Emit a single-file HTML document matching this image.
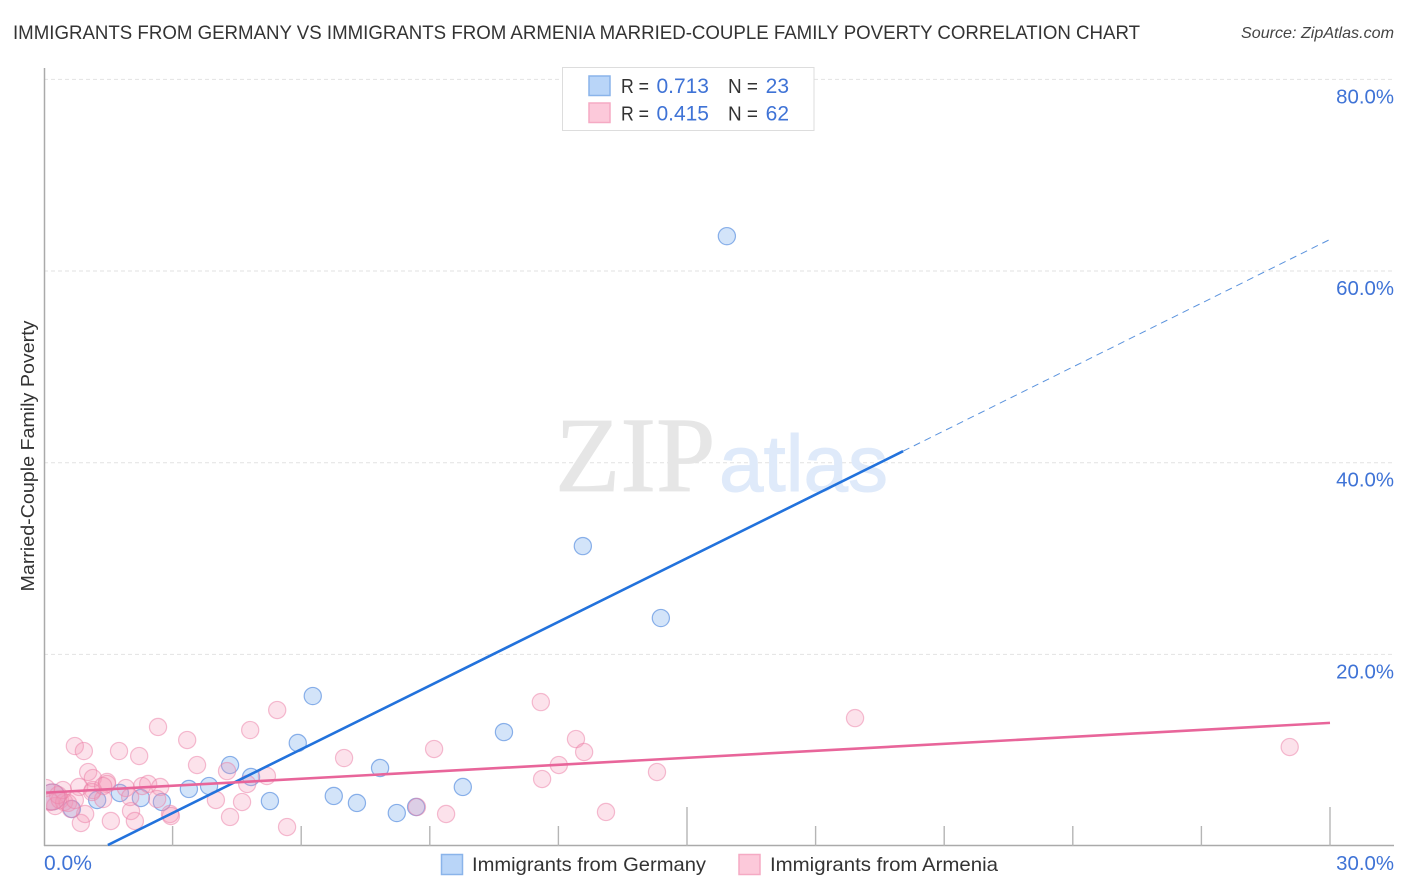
<!DOCTYPE html>
<html>
<head>
<meta charset="utf-8">
<title>Immigrants from Germany vs Immigrants from Armenia Married-Couple Family Poverty Correlation Chart</title>
<style>
html,body{margin:0;padding:0;background:#fff;width:1406px;height:892px;overflow:hidden}
svg{display:block}
text{font-family:"Liberation Sans",sans-serif}
</style>
</head>
<body>
<svg id="chart" xmlns="http://www.w3.org/2000/svg" width="1406" height="892" viewBox="0 0 1406 892">
  <defs>
    <clipPath id="plot-clip"><rect x="46" y="68" width="1348" height="778"/></clipPath>
  </defs>
  <rect x="0" y="0" width="1406" height="892" fill="#ffffff"/>
  <text x="13" y="39" font-size="19" fill="#333333" textLength="1127" lengthAdjust="spacingAndGlyphs">IMMIGRANTS FROM GERMANY VS IMMIGRANTS FROM ARMENIA MARRIED-COUPLE FAMILY POVERTY CORRELATION CHART</text>
  <text x="1241" y="38" font-size="16" font-style="italic" fill="#444444" textLength="153" lengthAdjust="spacingAndGlyphs">Source: ZipAtlas.com</text>

  <g id="grid"></g>

  <g>
    <text x="555" y="491" font-size="107" fill="#e6e6e6" stroke="#e6e6e6" stroke-width="0.8" style="font-family:'Liberation Serif',serif">ZIP</text>
    <text x="719" y="491" font-size="80" fill="#dfeafa" stroke="#dfeafa" stroke-width="1">atlas</text>
  </g>

  <g id="axes">
    <line x1="44.5" y1="68" x2="44.5" y2="846" stroke="#aaaaaa" stroke-width="1.5"/>
    <line x1="44" y1="845.5" x2="1394" y2="845.5" stroke="#aaaaaa" stroke-width="1.5"/>
  </g>
  <g id="xticks"></g>
  <g id="ylabels"></g>
  <g id="xlabels"></g>

  <g id="points" clip-path="url(#plot-clip)"></g>
  <g id="trends" clip-path="url(#plot-clip)"></g>

  <text transform="translate(34,456) rotate(-90)" font-size="18.5" fill="#333333" text-anchor="middle" textLength="271" lengthAdjust="spacingAndGlyphs">Married-Couple Family Poverty</text>

  <g>
    <rect x="562.5" y="67.5" width="251.5" height="63" fill="#ffffff" stroke="#dddddd" stroke-width="1"/>
    <rect x="589" y="76" width="21" height="19.5" fill="#b9d5f8" stroke="#8ab4ea" stroke-width="1.5"/>
    <rect x="589" y="103" width="21" height="19.5" fill="#fcc9da" stroke="#f5aac4" stroke-width="1.5"/>
    <text x="621" y="93" font-size="20" fill="#333333" textLength="28" lengthAdjust="spacingAndGlyphs">R =</text>
    <text x="709" y="93" font-size="21" fill="#3f73d6" text-anchor="end">0.713</text>
    <text x="728" y="93" font-size="20" fill="#333333" textLength="30" lengthAdjust="spacingAndGlyphs">N =</text>
    <text x="789" y="93" font-size="21" fill="#3f73d6" text-anchor="end">23</text>
    <text x="621" y="120.500" font-size="20" fill="#333333" textLength="28" lengthAdjust="spacingAndGlyphs">R =</text>
    <text x="709" y="120.500" font-size="21" fill="#3f73d6" text-anchor="end">0.415</text>
    <text x="728" y="120.500" font-size="20" fill="#333333" textLength="30" lengthAdjust="spacingAndGlyphs">N =</text>
    <text x="789" y="120.500" font-size="21" fill="#3f73d6" text-anchor="end">62</text>
  </g>

  <g>
    <rect x="441.500" y="854.500" width="21" height="20" fill="#b9d5f8" stroke="#8ab4ea" stroke-width="1.5"/>
    <text x="472" y="871" font-size="19.500" fill="#333333" textLength="234" lengthAdjust="spacingAndGlyphs">Immigrants from Germany</text>
    <rect x="739" y="854.500" width="21" height="20" fill="#fcc9da" stroke="#f5aac4" stroke-width="1.5"/>
    <text x="770" y="871" font-size="19.500" fill="#333333" textLength="228" lengthAdjust="spacingAndGlyphs">Immigrants from Armenia</text>
  </g>
</svg>
<script>
const yTickValues = [20, 40, 60, 80];
const yTickLabels = ["20.0%", "40.0%", "60.0%", "80.0%"];
const xTickValues = [3, 6, 9, 12, 15, 18, 21, 24, 27, 30];
const xMajorTicks = [15, 30];
const xEndLabels = ["0.0%", "30.0%"];
const xEndValues = [0, 30];

const germanyX = [15.93, 12.57, 14.39, 6.27, 5.92, 10.73, 4.34, 4.83, 7.84, 9.77, 6.76, 7.30, 8.23, 8.68, 5.27, 3.85, 3.38, 2.75, 2.26, 1.77, 1.24, 0.65, 0.19];
const germanyY = [63.64, 31.30, 23.79, 15.65, 10.75, 11.89, 8.45, 7.20, 8.14, 6.16, 5.22, 4.49, 3.44, 4.07, 4.69, 6.26, 5.95, 4.59, 5.01, 5.53, 4.80, 3.86, 5.11];

const armeniaX = [0.72, 0.93, 1.75, 2.22, 2.66, 3.34, 4.81, 5.44, 3.57, 4.27, 5.20, 4.74, 1.03, 1.14, 1.47, 1.47, 0.82, 1.14, 1.91, 2.29, 2.43, 2.71, 1.38, 2.03, 4.01, 4.62, 4.34, 5.67, 1.56, 2.12, 0.86, 0.96, 2.94, 2.96, 2.64, 2.01, 1.12, 0.05, 0.14, 0.26, 0.37, 0.47, 0.56, 0.33, 0.44, 0.63, 0.72, 9.10, 11.59, 12.41, 12.60, 12.01, 11.62, 14.30, 13.11, 9.38, 8.70, 7.00, 29.06, 18.92, 1.38, 0.19];
const armeniaY = [10.43, 9.91, 9.91, 9.39, 12.42, 11.06, 12.10, 14.19, 8.45, 7.82, 7.30, 6.47, 7.72, 7.09, 6.68, 6.47, 6.16, 5.84, 6.05, 6.26, 6.47, 6.16, 4.90, 3.65, 4.80, 4.59, 3.03, 1.98, 2.61, 2.61, 2.40, 3.34, 3.34, 3.13, 4.90, 5.11, 5.63, 6.05, 4.59, 4.17, 4.80, 4.59, 4.49, 5.32, 5.84, 3.86, 4.80, 10.12, 15.02, 11.16, 9.81, 8.45, 6.99, 7.72, 3.55, 3.34, 4.07, 9.18, 10.33, 13.35, 6.26, 5.11];

const germanyTrendX = [1.49, 20.04, 30];
const germanyTrendY = [0.1, 41.2, 63.3];
const armeniaTrendX = [0.05, 30];
const armeniaTrendY = [5.57, 12.85];

const NS = "http://www.w3.org/2000/svg";
function xScale(v) { return 44 + v * (1286 / 30); }
function yScale(v) { return 846 - v * (766.6 / 80); }
function make(tag, attrs, parent) {
  const el = document.createElementNS(NS, tag);
  for (const k in attrs) el.setAttribute(k, attrs[k]);
  parent.appendChild(el);
  return el;
}

const grid = document.getElementById("grid");
const yLabelGroup = document.getElementById("ylabels");
yTickValues.forEach(function (v, i) {
  const g = make("line", { x1: 44, x2: 1394, y1: yScale(v), y2: yScale(v), stroke: "#e2e2e2", "stroke-width": 1, "stroke-dasharray": "4 3" }, grid);
  
  
  const t = make("text", { x: 1394, y: yScale(v) + 24, "font-size": 20.4, fill: "#3f73d6", "text-anchor": "end" }, yLabelGroup);
  t.textContent = yTickLabels[i];
  
  
});

const xTickGroup = document.getElementById("xticks");
xTickValues.forEach(function (v) {
  const top = xMajorTicks.indexOf(v) >= 0 ? 807 : 826;
  const tick = make("line", { x1: xScale(v), x2: xScale(v), y1: top, y2: 846, stroke: "#b5b5b5", "stroke-width": 1.4 }, xTickGroup);
  
  
});

const xLabelGroup = document.getElementById("xlabels");
xEndValues.forEach(function (v, i) {
  const isLast = i === xEndValues.length - 1;
  const t = make("text", { x: isLast ? 1394 : xScale(v), y: 870, "font-size": isLast ? 20.4 : 21, fill: "#3f73d6", "text-anchor": isLast ? "end" : "start" }, xLabelGroup);
  t.textContent = xEndLabels[i];
  
  
});

const pointGroup = document.getElementById("points");
germanyX.forEach(function (v, i) {
  const big = i === germanyX.length - 1;
  const c = make("circle", { cx: xScale(v), cy: yScale(germanyY[i]), r: big ? 13 : 8.6, fill: "rgba(110,165,235,0.3)", stroke: "rgba(70,130,220,0.6)", "stroke-width": 1.2 }, pointGroup);
  
  
});
armeniaX.forEach(function (v, i) {
  const big = i === armeniaX.length - 1;
  const c = make("circle", { cx: xScale(v), cy: yScale(armeniaY[i]), r: big ? 13 : 8.6, fill: "rgba(246,150,182,0.28)", stroke: "rgba(236,125,165,0.5)", "stroke-width": 1.2 }, pointGroup);
  
  
});

const trends = document.getElementById("trends");
const germanySolid = make("line", { x1: xScale(germanyTrendX[0]), y1: yScale(germanyTrendY[0]), x2: xScale(germanyTrendX[1]), y2: yScale(germanyTrendY[1]), stroke: "#2272dc", "stroke-width": 2.6 }, trends);


const germanyDash = make("line", { x1: xScale(germanyTrendX[1]), y1: yScale(germanyTrendY[1]), x2: xScale(germanyTrendX[2]), y2: yScale(germanyTrendY[2]), stroke: "#5b93dd", "stroke-width": 1, "stroke-dasharray": "7 5" }, trends);


const armeniaLine = make("line", { x1: xScale(armeniaTrendX[0]), y1: yScale(armeniaTrendY[0]), x2: xScale(armeniaTrendX[1]), y2: yScale(armeniaTrendY[1]), stroke: "#e8659a", "stroke-width": 2.6 }, trends);


</script>
</body>
</html>
